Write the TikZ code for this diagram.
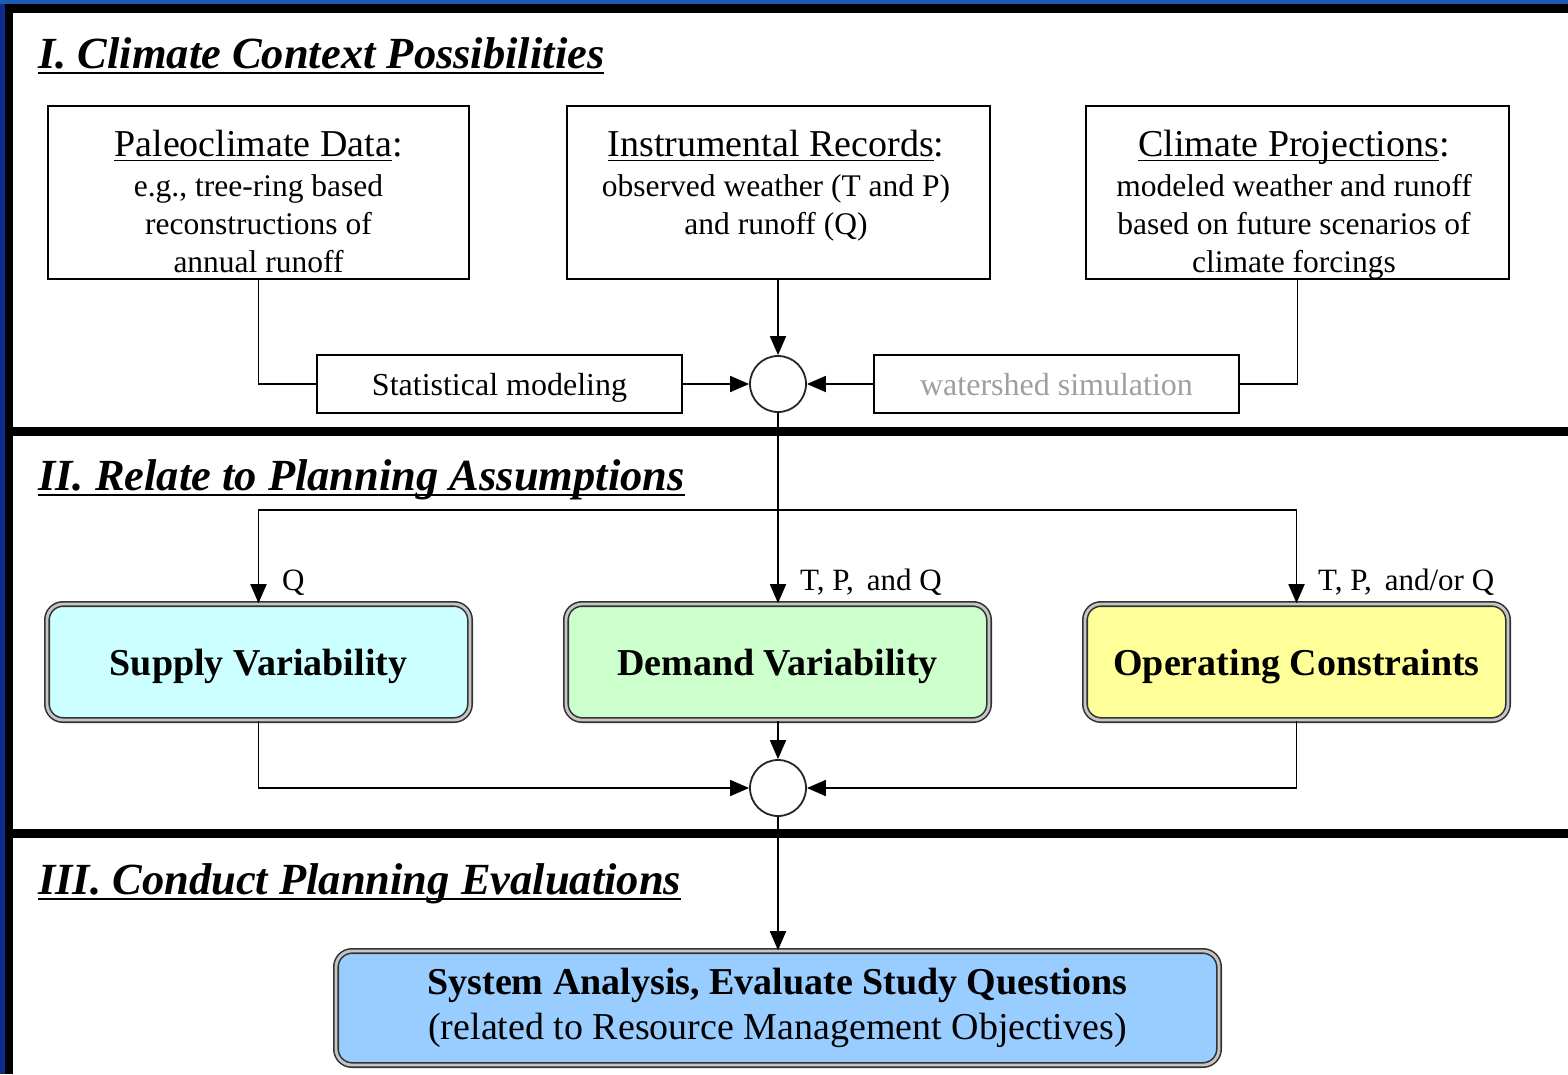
\documentclass[tikz,border=0pt]{standalone}
\usepackage{fontspec}
\setmainfont{Liberation Serif}
\usetikzlibrary{arrows.meta}
\definecolor{bgblue}{HTML}{0E2A8C}
\definecolor{topblue}{HTML}{1E5BB5}
\definecolor{supplyfill}{HTML}{CCFFFF}
\definecolor{demandfill}{HTML}{CCFFCC}
\definecolor{operfill}{HTML}{FFFF99}
\definecolor{sysfill}{HTML}{99CCFF}
\newlength\myulw
\newcommand\myul[3]{\settowidth\myulw{#3}\makebox[0pt][l]{\rule[#1]{\myulw}{#2}}#3}
\begin{document}
\begin{tikzpicture}[x=1pt,y=-1pt,
  sectitle/.style={inner sep=0pt, anchor=base west, font=\fontsize{44.5}{50}\selectfont\bfseries\itshape},
  topbox/.style={draw=black, line width=1.8pt, fill=white, inner sep=0pt},
  hdr/.style={inner sep=0pt, anchor=base, font=\fontsize{38}{44}\selectfont},
  body/.style={inner sep=0pt, anchor=base, align=center, font=\fontsize{31.5}{38}\selectfont},
  midbox/.style={draw=black, line width=1.8pt, fill=white, inner sep=0pt, text depth=0pt, minimum width=365pt, minimum height=58pt, font=\fontsize{32}{38}\selectfont},
  junction/.style={circle, draw=black!85, line width=1.8pt, fill=white, minimum size=56pt, inner sep=0pt},
  colbox/.style={rounded corners=16pt, draw=black!80, line width=1.6pt, double=gray!45, double distance=2.8pt, inner sep=0pt, font=\fontsize{38}{44}\selectfont\bfseries},
  conn/.style={line width=1.8pt, draw=black},
  arr/.style={conn, -{Triangle[length=19pt,width=16pt]}},
  lbl/.style={inner sep=0pt, anchor=base west, font=\fontsize{31}{36}\selectfont}
]
\useasboundingbox (0,0) rectangle (1568,1074);
% frame
\fill[bgblue] (0,0) rectangle (1568,1074);
\fill[topblue] (0,0) rectangle (1568,4);
\fill[black] (5,4) rectangle (1568,1074);
\fill[white] (13,13) rectangle (1568,1074);
\fill[black] (5,427) rectangle (1568,436);
\fill[black] (5,829) rectangle (1568,838);

% section titles
\node[sectitle] (t1) at (38,68) {\myul{-6pt}{2pt}{I. Climate Context Possibilities}};
\node[sectitle] (t2) at (38,490) {\myul{-6pt}{2pt}{II. Relate to Planning Assumptions}};
\node[sectitle] (t3) at (38,894) {\myul{-6pt}{2pt}{III. Conduct Planning Evaluations}};

% top boxes
\node[topbox, minimum width=421pt, minimum height=173pt] (paleo) at (258.5,192.5) {};
\node[topbox, minimum width=423pt, minimum height=173pt] (instr) at (778.5,192.5) {};
\node[topbox, minimum width=423pt, minimum height=173pt] (proj) at (1297.5,192.5) {};

\node[hdr] (paleoH) at (258.5,156) {\myul{-5pt}{1.5pt}{Paleoclimate Data}:};
\node[body] (paleoB) at (258.5,272) {e.g., tree-ring based\\reconstructions of\\annual runoff};
\node[hdr] (instrH) at (776,156) {\myul{-5pt}{1.5pt}{Instrumental Records}:};
\node[body] (instrB) at (776,234) {observed weather (T and P)\\and runoff (Q)};
\node[hdr] (projH) at (1294,156) {\myul{-5pt}{1.5pt}{Climate Projections}:};
\node[body] (projB) at (1294,272) {modeled weather and runoff\\based on future scenarios of\\climate forcings};

% middle boxes and junction
\node[midbox] (stat) at (499.5,384) {Statistical modeling};
\node[midbox, text=gray!75] (water) at (1056.5,384) {watershed simulation};
\node[junction] (c1) at (778,384) {};

\draw[conn] (paleo.south) |- (stat.west);
\draw[arr] (stat.east) -- (c1.west);
\draw[arr] (instr.south -| c1.north) -- (c1.north);
\draw[conn] (proj.south) |- (water.east);
\draw[arr] (water.west) -- (c1.east);

% section II boxes
\node[colbox, text depth=0pt, fill=supplyfill, minimum width=423pt, minimum height=116pt] (supply) at (258.5,662) {Supply Variability};
\node[colbox, text depth=0pt, fill=demandfill, minimum width=423pt, minimum height=116pt] (demand) at (777.5,662) {Demand Variability};
\node[colbox, text depth=0pt, fill=operfill, minimum width=423pt, minimum height=116pt] (oper) at (1296.5,662) {Operating Constraints};

\coordinate (bus) at (778,510);
\draw[arr] (c1.south) -- (demand.north -| c1.south);
\draw[arr] (bus) -| (supply.north);
\draw[arr] (bus) -| (oper.north);

\node[lbl] (lq) at (282,590) {Q};
\node[lbl] (ltpq) at (800,590) {T, P,\, and Q};
\node[lbl] (ltpoq) at (1318,590) {T, P,\, and/or Q};

\node[junction] (c2) at (778,788) {};
\draw[arr] (demand.south -| c2.north) -- (c2.north);
\draw[arr] (supply.south) |- (c2.west);
\draw[arr] (oper.south) |- (c2.east);

% section III
\node[colbox, fill=sysfill, minimum width=883pt, minimum height=114pt, align=center, font=\fontsize{38}{45}\selectfont] (sys) at (777.5,1008) {{\bfseries System Analysis, Evaluate Study Questions}\\(related to Resource Management Objectives)\rule[-3pt]{0pt}{0pt}};
\draw[arr] (c2.south) -- (sys.north -| c2.south);
\end{tikzpicture}
\end{document}
